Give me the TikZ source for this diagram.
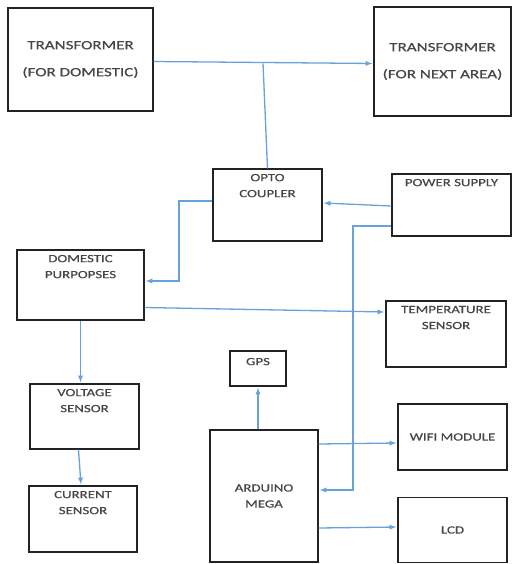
\documentclass[tikz,border=0pt]{standalone}
\usepackage{fontspec}
\newfontfamily\boxfont[FakeStretch=1.35, FakeBold=0.6]{Carlito}
\usepackage{tikz}
\usetikzlibrary{arrows}
\definecolor{wireblue}{RGB}{104,162,222}
\definecolor{boxline}{RGB}{35,35,35}
\definecolor{txtgray}{RGB}{70,70,70}
\tikzstyle{blk}=[draw=boxline, line width=1.4pt, inner sep=0pt, text=txtgray, align=center, font=\boxfont\fontsize{11}{16}\selectfont]
\tikzstyle{big}=[font=\boxfont\fontsize{12.6}{27}\selectfont]
\tikzstyle{toptxt}=[anchor=north, inner sep=1pt, yshift=-4.5pt, align=center, text=txtgray, font=\boxfont\fontsize{11}{16}\selectfont]
\tikzstyle{edge}=[draw=wireblue, line width=1.3pt, shorten >=1pt, -latex]
\tikzstyle{wire}=[draw=wireblue, line width=1.3pt]

\begin{document}
\begin{tikzpicture}[x=1pt, y=-1pt]
	\useasboundingbox (0,0) rectangle (513,564);
	% blocks
	\draw (80.5,59.5) node[blk, big, minimum width=145pt, minimum height=103pt] (t1) {TRANSFORMER\\(FOR DOMESTIC)};
	\draw (442.5,61.5) node[blk, big, minimum width=137pt, minimum height=109pt] (t2) {TRANSFORMER\\(FOR NEXT AREA)};
	\draw (267.5,205) node[blk, minimum width=109pt, minimum height=72pt, label={[toptxt]90:{OPTO\\COUPLER}}] (opto) {};
	\draw (451.5,205) node[blk, minimum width=119pt, minimum height=62pt, label={[toptxt]90:POWER SUPPLY}] (ps) {};
	\draw (80.5,285) node[blk, minimum width=127pt, minimum height=70pt, label={[toptxt]90:{DOMESTIC\\PURPOPSES}}] (dom) {};
	\draw (446,334) node[blk, minimum width=120pt, minimum height=66pt, label={[toptxt]90:{TEMPERATURE\\SENSOR}}] (temp) {};
	\draw (258,368.5) node[blk, minimum width=56pt, minimum height=35pt, label={[toptxt, yshift=-2pt]90:GPS}] (gps) {};
	\draw (84.5,416.5) node[blk, minimum width=109pt, minimum height=65pt, label={[toptxt]90:{VOLTAGE\\SENSOR}}] (volt) {};
	\draw (83,519) node[blk, minimum width=108pt, minimum height=66pt, label={[toptxt]90:{CURRENT\\SENSOR}}] (cur) {};
	\draw (264,496) node[blk, minimum width=108pt, minimum height=132pt] (ard) {ARDUINO\\MEGA};
	\draw (452.5,437) node[blk, minimum width=109pt, minimum height=66pt] (wifi) {WIFI MODULE};
	\draw (452.5,530) node[blk, minimum width=109pt, minimum height=65pt] (lcd) {LCD};
	% connections
	\coordinate (tap) at (263,63.5);
	\draw[edge] ([yshift=-2pt]t1.east) -- ([yshift=-2pt]t2.west);
	\draw[wire] (tap) -- (opto.north);
	\draw[edge] ([yshift=-1pt]ps.west) -- ([yshift=2pt]opto.east);
	\draw[edge] (ps.west |- 0,226) -| (353,490) -- (ard.east |- 0,490);
	\draw[edge] ([yshift=4pt]opto.west) -| (179,281) -- (dom.east |- 0,281);
	\draw[edge] (dom.east |- 0,307.5) -- (temp.west |- 0,312);
	\draw[edge] (dom.south) -- (dom.south |- volt.north);
	\draw[edge] ([xshift=-6pt]volt.south) -- ([xshift=-2pt]cur.north);
	\draw[edge] (ard.north -| gps.south) -- (gps.south);
	\draw[edge] (ard.east |- 0,444) -- (wifi.west |- 0,443);
	\draw[edge] (ard.east |- 0,528) -- (lcd.west |- 0,527);
\end{tikzpicture}
\end{document}
